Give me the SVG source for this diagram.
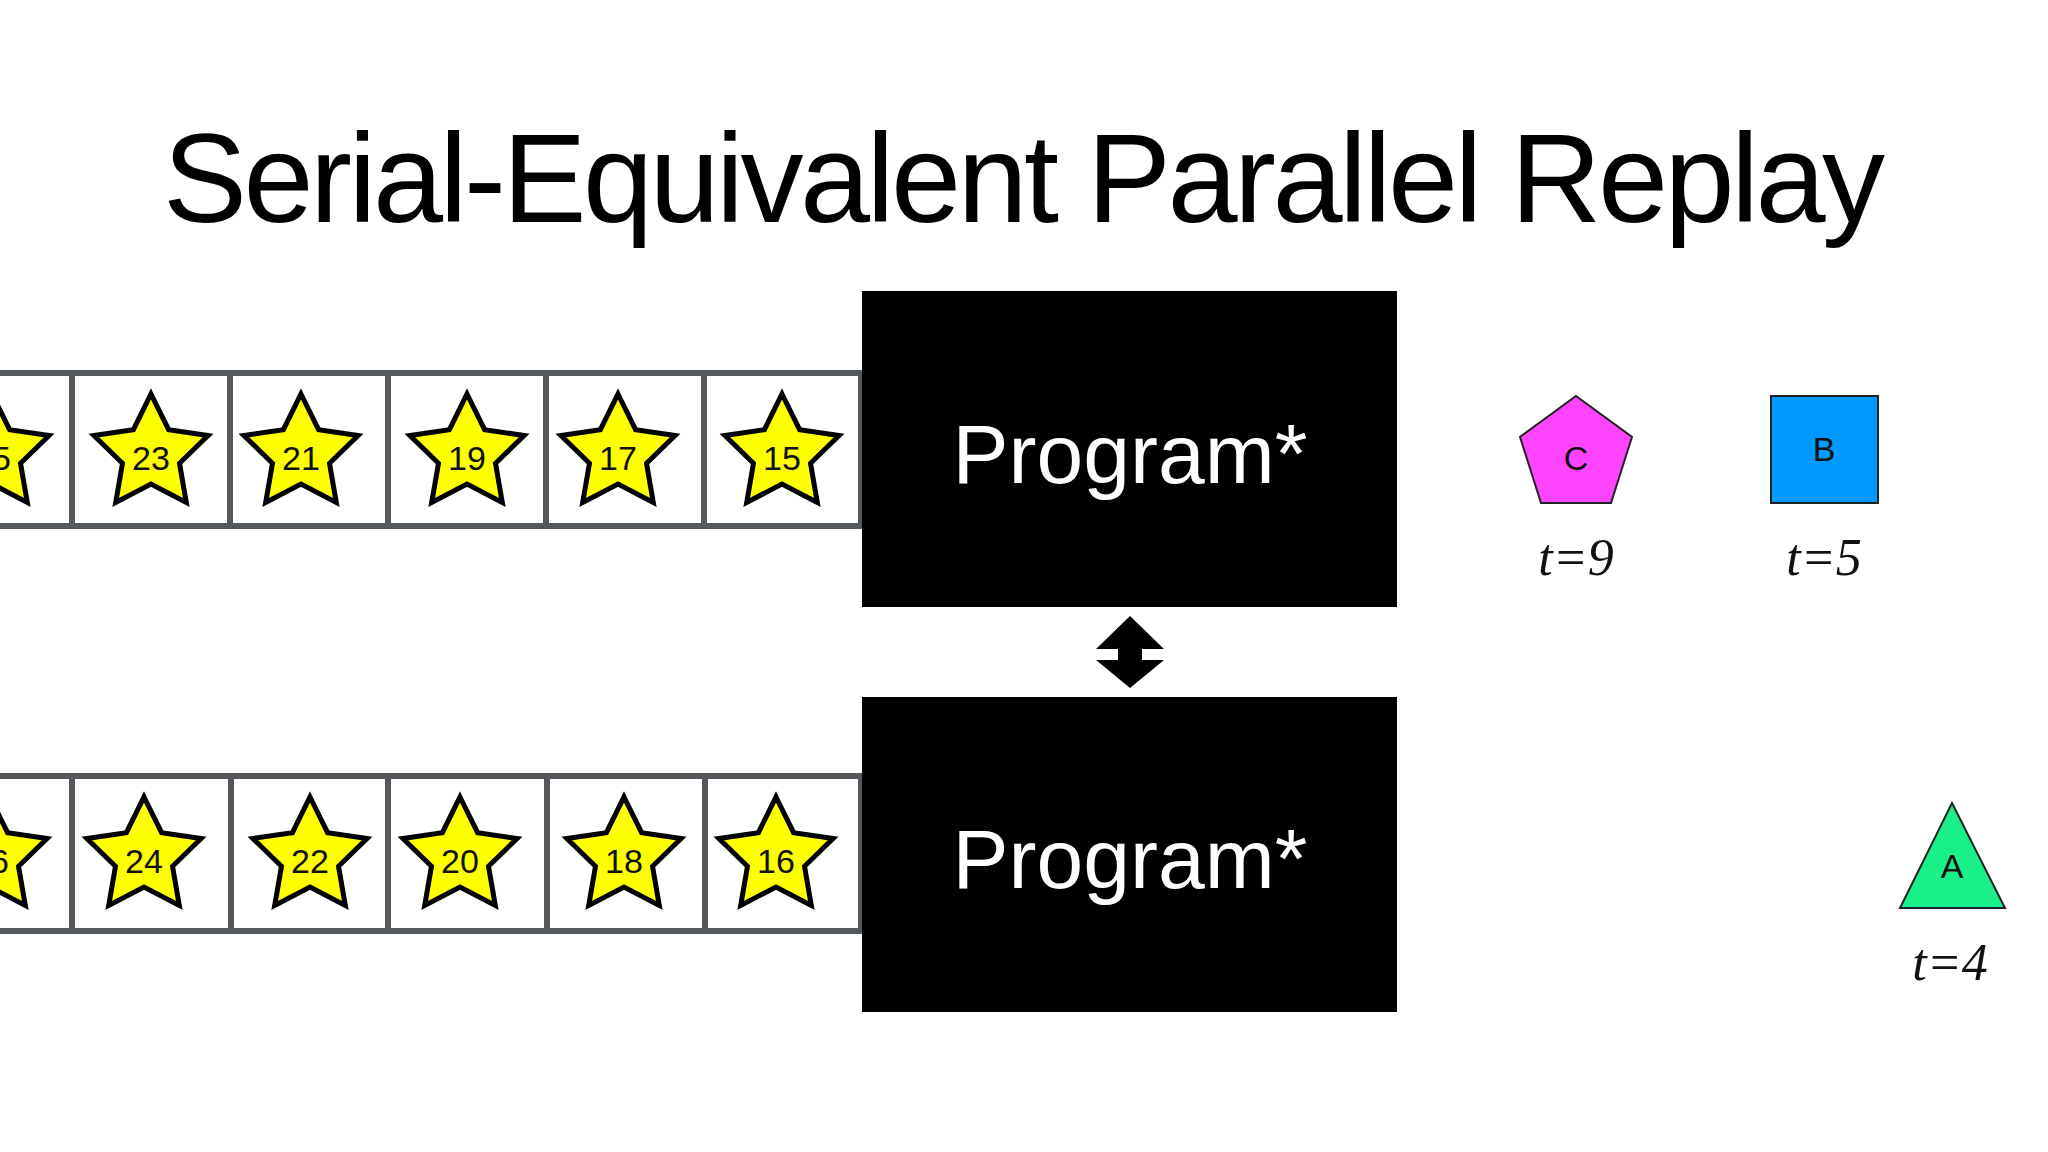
<svg xmlns="http://www.w3.org/2000/svg" width="2048" height="1152" viewBox="0 0 2048 1152">
<defs>
<style>
.cell{fill:#fff;stroke:#55595e;stroke-width:6}
.star{fill:#ffff00;stroke:#000;stroke-width:5;stroke-linejoin:miter}
.num{font-family:"Liberation Sans",Arial,sans-serif;font-size:34px;fill:#111;text-anchor:middle}
.prog{font-family:"Liberation Sans",Arial,sans-serif;font-size:84px;fill:#fff;text-anchor:middle}
.t{font-family:"Liberation Serif","Times New Roman",serif;font-style:italic;font-size:52px;fill:#111;text-anchor:middle}
.lbl{font-family:"Liberation Sans",Arial,sans-serif;font-size:34px;fill:#111;text-anchor:middle}
</style>
<polygon id="st" points="0,-60 17.6,-24.3 57.1,-18.5 28.5,9.3 35.3,48.5 0,30 -35.3,48.5 -28.5,9.3 -57.1,-18.5 -17.6,-24.3"/>
</defs>
<rect width="2048" height="1152" fill="#fff"/>
<text x="1024" y="222" font-family="Liberation Sans,Arial,sans-serif" font-size="126" text-anchor="middle" textLength="1722" fill="#000">Serial-Equivalent Parallel Replay</text>

<g id="tape1">
<rect class="cell" x="-10" y="373" width="82" height="153"/>
<rect class="cell" x="72" y="373" width="158" height="153"/>
<rect class="cell" x="230" y="373" width="158" height="153"/>
<rect class="cell" x="388" y="373" width="158" height="153"/>
<rect class="cell" x="546" y="373" width="158" height="153"/>
<rect class="cell" x="704" y="373" width="157" height="153"/>
<use href="#st" class="star" x="-8" y="454"/><text class="num" x="-8" y="470">25</text>
<use href="#st" class="star" x="151" y="454"/><text class="num" x="151" y="470">23</text>
<use href="#st" class="star" x="301" y="454"/><text class="num" x="301" y="470">21</text>
<use href="#st" class="star" x="467" y="454"/><text class="num" x="467" y="470">19</text>
<use href="#st" class="star" x="618" y="454"/><text class="num" x="618" y="470">17</text>
<use href="#st" class="star" x="782" y="454"/><text class="num" x="782" y="470">15</text>
</g>

<g id="tape2">
<rect class="cell" x="-10" y="776" width="82" height="155"/>
<rect class="cell" x="72" y="776" width="159" height="155"/>
<rect class="cell" x="231" y="776" width="157" height="155"/>
<rect class="cell" x="388" y="776" width="159" height="155"/>
<rect class="cell" x="547" y="776" width="158" height="155"/>
<rect class="cell" x="705" y="776" width="156" height="155"/>
<use href="#st" class="star" x="-10" y="857"/><text class="num" x="-10" y="873">26</text>
<use href="#st" class="star" x="144" y="857"/><text class="num" x="144" y="873">24</text>
<use href="#st" class="star" x="310" y="857"/><text class="num" x="310" y="873">22</text>
<use href="#st" class="star" x="460" y="857"/><text class="num" x="460" y="873">20</text>
<use href="#st" class="star" x="624" y="857"/><text class="num" x="624" y="873">18</text>
<use href="#st" class="star" x="776" y="857"/><text class="num" x="776" y="873">16</text>
</g>

<g id="program1">
<rect x="862" y="291" width="535" height="316" fill="#000"/>
<text class="prog" x="1130" y="483">Program*</text>
</g>
<g id="program2">
<rect x="862" y="697" width="535" height="315" fill="#000"/>
<text class="prog" x="1130" y="888">Program*</text>
</g>

<g id="connectors">
<polygon points="1130,616 1164,649 1142,649 1142,660 1164,660 1130,688 1096,660 1118,660 1118,649 1096,649" fill="#000"/>
</g>

<g id="shapeC">
<polygon points="1576,396 1632,437 1611,503 1541,503 1520,437" fill="#ff44ff" stroke="#222" stroke-width="2"/>
<text class="lbl" x="1576" y="470">C</text>
<text class="t" x="1576" y="575">t=9</text>
</g>
<g id="shapeB">
<rect x="1771" y="396" width="107" height="107" fill="#0099ff" stroke="#222" stroke-width="2"/>
<text class="lbl" x="1824" y="461">B</text>
<text class="t" x="1824" y="575">t=5</text>
</g>
<g id="shapeA">
<polygon points="1952,803 2005,908 1900,908" fill="#1af08a" stroke="#222" stroke-width="2"/>
<text class="lbl" x="1952" y="878">A</text>
<text class="t" x="1950" y="980">t=4</text>
</g>
</svg>
